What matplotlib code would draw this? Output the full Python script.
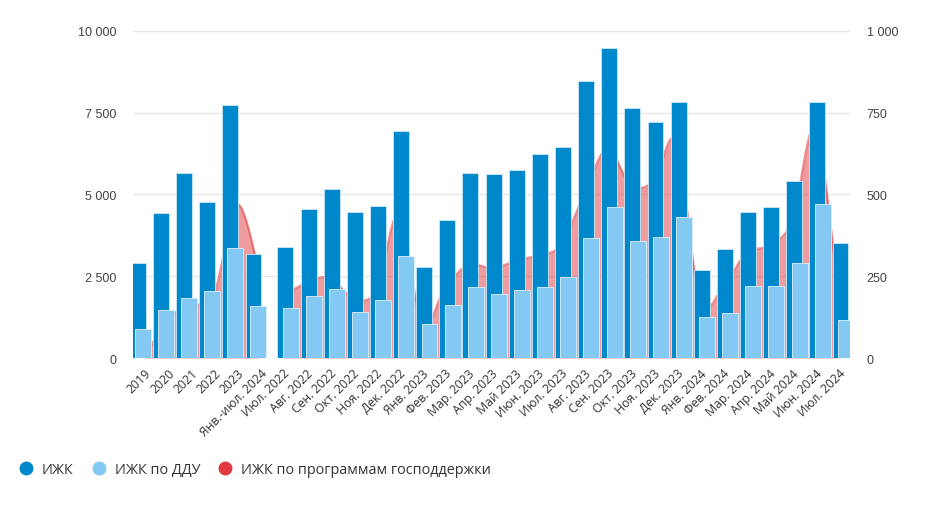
import numpy as np
import matplotlib
matplotlib.use("Agg")
from matplotlib import pyplot as plt
from matplotlib.lines import Line2D
from matplotlib.ticker import FuncFormatter

# categories: 6 annual values, then monthly values
categories = ['2019', '2020', '2021', '2022', '2023', 'Янв.-июл. 2024',
              'Июл. 2022', 'Авг. 2022', 'Сен. 2022', 'Окт. 2022', 'Ноя. 2022', 'Дек. 2022',
              'Янв. 2023', 'Фев. 2023', 'Мар. 2023', 'Апр. 2023', 'Май 2023', 'Июн. 2023',
              'Июл. 2023', 'Авг. 2023', 'Сен. 2023', 'Окт. 2023', 'Ноя. 2023', 'Дек. 2023',
              'Янв. 2024', 'Фев. 2024', 'Мар. 2024', 'Апр. 2024', 'Май 2024', 'Июн. 2024',
              'Июл. 2024']
n_annual = 6

izhk = [2890, 4420, 5660, 4780, 7750, 3180,
        3380, 4550, 5160, 4450, 4660, 6940, 2780, 4210, 5660, 5620, 5760, 6230,
        6450, 8460, 9490, 7650, 7220, 7830, 2680, 3320, 4450, 4620, 5410, 7830, 3520]
izhk_ddu = [900, 1470, 1850, 2040, 3350, 1580,
            1540, 1890, 2110, 1400, 1780, 3110, 1040, 1620, 2180, 1970, 2070, 2180,
            2470, 3670, 4620, 3570, 3700, 4310, 1260, 1370, 2210, 2210, 2920, 4700, 1150]
izhk_gov = [0, 120, 160, 195, 470, 250,
            190, 230, 245, 185, 205, 440, 105, 215, 285, 275, 295, 315,
            345, 500, 640, 530, 540, 660, 180, 215, 320, 345, 420, 700, 200]

labels = ['ИЖК', 'ИЖК по ДДУ', 'ИЖК по программам господдержки']

C_DARK = '#0088cc'
C_LIGHT = '#84c8f4'
C_RED = '#e03a40'


def smooth(xs, ys, n=24):
    """Catmull-Rom curve through the points."""
    xs = np.asarray(xs, float); ys = np.asarray(ys, float)
    px = np.concatenate([[xs[0]], xs, [xs[-1]]])
    py = np.concatenate([[ys[0]], ys, [ys[-1]]])
    ox, oy = [], []
    t = np.linspace(0, 1, n)
    for i in range(1, len(px) - 2):
        for p, out in ((px, ox), (py, oy)):
            p0, p1, p2, p3 = p[i - 1], p[i], p[i + 1], p[i + 2]
            out.extend(0.5 * (2 * p1 + (-p0 + p2) * t
                              + (2 * p0 - 5 * p1 + 4 * p2 - p3) * t ** 2
                              + (-p0 + 3 * p1 - 3 * p2 + p3) * t ** 3))
    return np.array(ox), np.clip(np.array(oy), 0, None)


def spaced(v, pos=None):
    return f'{int(v):,}'.replace(',', '\u00a0')


fig = plt.figure(figsize=(9.36, 5.10), dpi=100)
ax = fig.add_axes([133 / 936, 1 - 359 / 510, 717 / 936, 327 / 510])
ax2 = ax.twinx()

x = np.arange(len(categories))
annual = x < n_annual
dark_x = np.where(annual, x - 0.29, x + 0.09)
light_x = np.where(annual, x - 0.08, x + 0.32)
w = 0.69

# red spline area on the right axis, behind the bars
ax2.set_zorder(0)
ax.set_zorder(1)
ax.patch.set_visible(False)
for seg in (slice(0, n_annual), slice(n_annual, len(categories))):
    sx, sy = smooth(x[seg], izhk_gov[seg])
    ax2.fill_between(sx, 0, sy, color=C_RED, alpha=0.5, lw=0)
    ax2.plot(sx, sy, color=C_RED, alpha=0.55, lw=1.6)

ax.bar(dark_x, izhk, width=w, color=C_DARK, edgecolor='#cfe8f7', linewidth=0.6, zorder=2)
ax.bar(light_x, izhk_ddu, width=w, color=C_LIGHT, edgecolor='#dff0fb', linewidth=0.6, zorder=3)

ax.set_xlim(-0.5, len(categories) - 0.5)
ax.set_ylim(0, 10000)
ax2.set_ylim(0, 1000)
ax.set_yticks([0, 2500, 5000, 7500, 10000])
ax2.set_yticks([0, 250, 500, 750, 1000])
ax.yaxis.set_major_formatter(FuncFormatter(spaced))
ax2.yaxis.set_major_formatter(FuncFormatter(spaced))

ax2.grid(False)
for v in [0, 2500, 5000, 7500, 10000]:
    ax2.axhline(v / 10, color='#e6e6e6', lw=1, zorder=0)

for a in (ax, ax2):
    for s in a.spines.values():
        s.set_visible(False)
    a.tick_params(axis='y', length=0, labelsize=9, labelcolor='#444', pad=12)
    for t in a.get_yticklabels():
        t.set_fontfamily('Liberation Sans')

ax.set_xticks(x)
ax.set_xticklabels(categories, rotation=45, ha='right', va='top',
                   rotation_mode='anchor', fontsize=8.8, color='#333', family='Open Sans')
ax.tick_params(axis='x', length=0, pad=6)

handles = [Line2D([], [], marker='o', ls='', ms=9, color=c) for c in (C_DARK, C_LIGHT, C_RED)]
fig.legend(handles, labels, loc='center left', bbox_to_anchor=(0.008, 0.078), ncol=3,
           frameon=False, handlelength=0.8, handletextpad=0.7, columnspacing=1.35,
           prop={'family': 'Open Sans', 'size': 10.35}, labelcolor='#333')

fig.savefig('out.png', dpi=100)
